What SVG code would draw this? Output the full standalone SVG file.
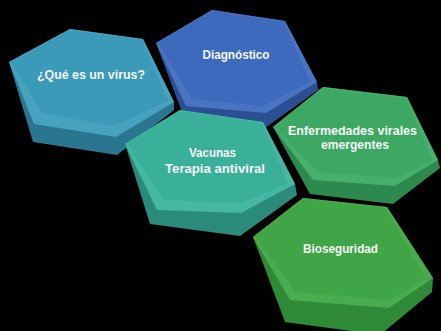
<svg xmlns="http://www.w3.org/2000/svg" width="441" height="331" viewBox="0 0 441 331">
<style>
.lbl{font-family:"Liberation Sans","DejaVu Sans",sans-serif;font-weight:bold;font-size:12.5px;fill:#f4f8f6;text-anchor:middle}
#n1 .s{fill:#2a7691}#n1 .b{fill:#46a2be}#n1 .f{fill:#3a9ab8}
#n2 .s{fill:#2c4f93}#n2 .b{fill:#4874c3}#n2 .f{fill:#3e6abe}
#n3 .s{fill:#2a8b7b}#n3 .b{fill:#45b7a2}#n3 .f{fill:#3ab09b}
#n4 .s{fill:#2d8a4e}#n4 .b{fill:#47af6d}#n4 .f{fill:#3ca864}
#n5 .s{fill:#2f8a37}#n5 .b{fill:#49ad4f}#n5 .f{fill:#3fa546}
</style>
<rect width="441" height="331" fill="#000"/>
<g id="connectors"/>
<g id="n1">
<polygon class="s" points="9,62 70,29 143,39 174,102 174,110 117,155 33,142"/>
<polygon class="b" points="9,62 70,29 143,39 174,102 116,137 34,124"/>
<polygon class="f" points="11,62 70,30 142,40 168,101 114,126 42,113"/>
<text class="lbl" x="91" y="78.5" textLength="108" lengthAdjust="spacingAndGlyphs">¿Qué es un virus?</text>
</g>
<g id="n2">
<polygon class="s" points="156,43 212,10 285,21 317,82 318,90 265,128 185,120"/>
<polygon class="b" points="156,43 212,10 285,21 317,82 266,113 186,106"/>
<polygon class="f" points="158,43 212,11 284,22 310,82 262,106 192,99"/>
<text class="lbl" x="236" y="59" textLength="67" lengthAdjust="spacingAndGlyphs">Diagnóstico</text>
</g>
<g id="n3">
<polygon class="s" points="125,144 180,110 263,122 295,184 297,195 240,236 150,224"/>
<polygon class="b" points="125,144 180,110 263,122 295,184 241,213 157,210"/>
<polygon class="f" points="127,144 180,111 262,123 288,184 240,203 164,200"/>
<text class="lbl" x="212.5" y="157" textLength="47" lengthAdjust="spacingAndGlyphs">Vacunas</text>
<text class="lbl" x="215" y="173" textLength="100" lengthAdjust="spacingAndGlyphs">Terapia antiviral</text>
</g>
<g id="n4">
<polygon class="s" points="273,127 323,87 407,97 438,160 440,168 393,204 310,194"/>
<polygon class="b" points="273,127 323,87 407,97 438,160 395,186 313,180"/>
<polygon class="f" points="275,127 323,88 406,98 432,160 396,178 317,172"/>
<text class="lbl" x="352.5" y="135" textLength="129" lengthAdjust="spacingAndGlyphs">Enfermedades virales</text>
<text class="lbl" x="355" y="149" textLength="68" lengthAdjust="spacingAndGlyphs">emergentes</text>
</g>
<g id="n5">
<polygon class="s" points="253,237 303,198 387,207 433,278 432,292 380,335 285,322"/>
<polygon class="b" points="253,237 303,198 387,207 433,278 389,308 290,300"/>
<polygon class="f" points="255,237 303,199 386,208 426,279 390,300 296,292"/>
<text class="lbl" x="340.5" y="253" textLength="75" lengthAdjust="spacingAndGlyphs">Bioseguridad</text>
</g>
</svg>
